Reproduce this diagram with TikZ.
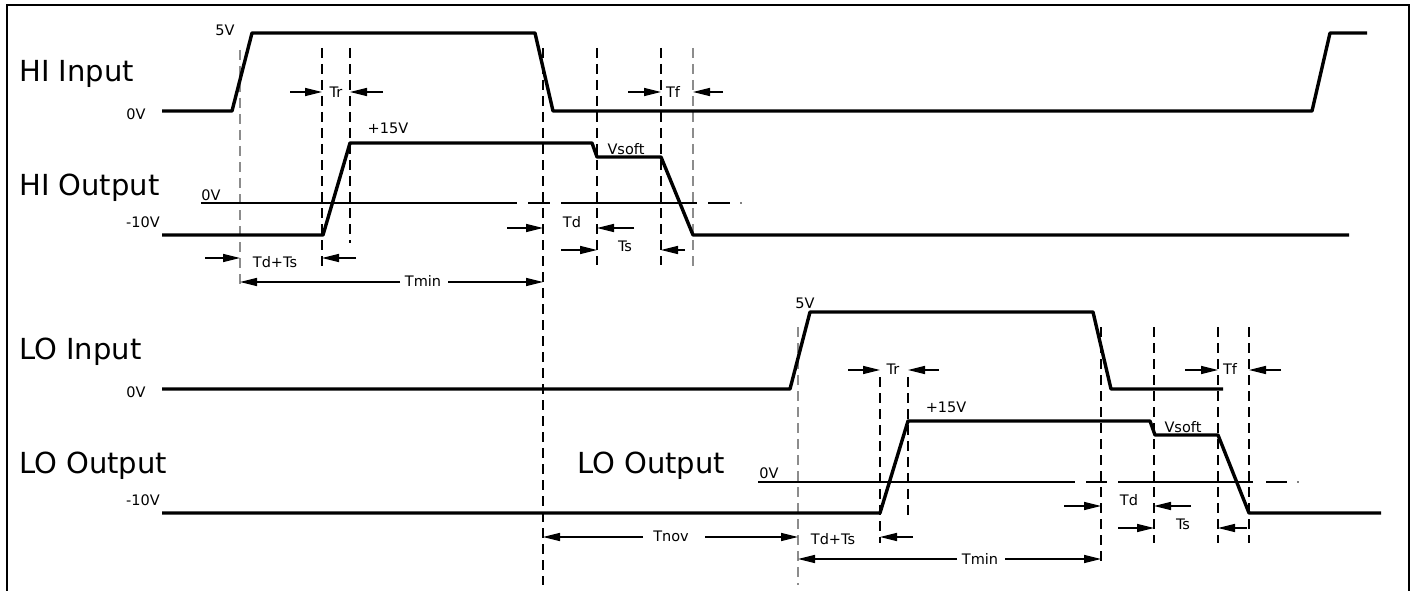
\documentclass[tikz,border=0pt]{standalone}
\usepackage{fontspec}
\setmainfont{DejaVu Sans}
\usetikzlibrary{arrows.meta}
\begin{document}
\begin{tikzpicture}[x=1pt,y=-1pt,
  sig/.style={line width=3.4pt,line join=round},
  vdash/.style={line width=1.5pt,dash pattern=on 10pt off 6pt},
  gdash/.style={vdash,draw=black!45},
  zline/.style={line width=1.4pt},
  arr/.style={line width=1.5pt,-{Triangle[length=17pt,width=8pt]}},
  big/.style={inner sep=0pt,anchor=base west,font=\fontsize{29}{34}\selectfont},
  lbl/.style={inner sep=0pt,font=\fontsize{14.5}{17}\selectfont}]
\useasboundingbox (0,0) rectangle (1416,591);
% frame
\draw[line width=2.5pt] (7,600) -- (7,5) -- (1409,5) -- (1409,600);

% ---------- HI section ----------
\node[big] (hiin) at (19,82) {HI Input};
\node[big] (hiout) at (19,195) {HI Output};
\node[lbl] (hi5) at (225,30) {5V};
\node[lbl] (hi0in) at (136,114) {0V};
\node[lbl] (hi0out) at (211,195) {0V};
\node[lbl] (him10) at (143,222) {-10V};
\node[lbl] (hip15) at (388,128) {+15V};
\node[lbl] (hivs) at (626,149) {Vsoft};
\node[lbl] (hitr) at (336,92) {Tr};
\node[lbl] (hitf) at (673,92) {Tf};
\node[lbl] (hitd) at (572,222) {Td};
\node[lbl] (hits) at (625,246) {Ts};
\node[lbl] (hitdts) at (275,262) {Td+Ts};
\node[lbl] (hitmin) at (423,281) {Tmin};

% vertical dashed lines
\draw[gdash] (240,50) -- (240,290);
\draw[vdash] (322,48) -- (322,267);
\draw[vdash] (350,48) -- (350,243);
\draw[vdash] (543,48) -- (543,585);
\draw[vdash] (597,48) -- (597,265);
\draw[vdash] (661,48) -- (661,265);
\draw[gdash] (693,48) -- (693,267);

% zero line
\draw[zline] (201,203) -- (517,203) (528,203) -- (550,203) (561,203) -- (697,203) (708,203) -- (730,203);
\fill (741,203) circle (0.8);

% waveforms
\draw[sig] (162,111) -- (232,111) -- (252,33) -- (535,33) -- (553,111) -- (1312,111) -- (1330,33) -- (1367,33);
\draw[sig] (162,235) -- (323,235) -- (350,143) -- (592,143) -- (597,157) -- (661,157) -- (693,235) -- (1349,235);

% arrows
\draw[arr] (290,92) -- (322,92);
\draw[arr] (383,92) -- (350,92);
\draw[arr] (628,92) -- (661,92);
\draw[arr] (723,92) -- (693,92);
\draw[arr] (507,228) -- (543,228);
\draw[arr] (634,228) -- (597,228);
\draw[arr] (561,250) -- (597,250);
\draw[arr] (685,250) -- (661,250);
\draw[arr] (205,258) -- (240,258);
\draw[arr] (356,258) -- (322,258);
\draw[arr] (400,282) -- (240,282);
\draw[arr] (448,282) -- (543,282);

% ---------- LO section ----------
\node[big] (loin) at (19,359) {LO Input};
\node[big] (loout) at (19,473) {LO Output};
\node[big] (loout2) at (577,473) {LO Output};
\node[lbl] (lo5) at (805,303) {5V};
\node[lbl] (lo0in) at (136,392) {0V};
\node[lbl] (lo0out) at (769,473) {0V};
\node[lbl] (lom10) at (143,500) {-10V};
\node[lbl] (lop15) at (946,407) {+15V};
\node[lbl] (lovs) at (1183,427) {Vsoft};
\node[lbl] (lotr) at (893,369) {Tr};
\node[lbl] (lotf) at (1230,369) {Tf};
\node[lbl] (lotd) at (1129,500) {Td};
\node[lbl] (lots) at (1183,524) {Ts};
\node[lbl] (lotnov) at (671,536) {Tnov};
\node[lbl] (lotdts) at (833,539) {Td+Ts};
\node[lbl] (lotmin) at (980,559) {Tmin};

\draw[gdash] (798,327) -- (798,585);
\draw[vdash] (880,377) -- (880,543);
\draw[vdash] (908,377) -- (908,520);
\draw[vdash] (1101,327) -- (1101,562);
\draw[vdash] (1154,327) -- (1154,543);
\draw[vdash] (1218,327) -- (1218,543);
\draw[vdash] (1249,327) -- (1249,543);

\draw[zline] (758,482) -- (1075,482) (1086,482) -- (1107,482) (1118,482) -- (1253,482) (1266,482) -- (1287,482);
\fill (1298,482) circle (0.8);

\draw[sig] (162,389) -- (790,389) -- (810,312) -- (1093,312) -- (1111,389) -- (1223,389);
\draw[sig] (162,513) -- (880,513) -- (908,421) -- (1150,421) -- (1155,435) -- (1218,435) -- (1249,513) -- (1381,513);

\draw[arr] (848,370) -- (880,370);
\draw[arr] (939,370) -- (908,370);
\draw[arr] (1185,370) -- (1218,370);
\draw[arr] (1281,370) -- (1249,370);
\draw[arr] (1064,506) -- (1101,506);
\draw[arr] (1191,506) -- (1154,506);
\draw[arr] (1118,528) -- (1154,528);
\draw[arr] (1247,528) -- (1218,528);
\draw[arr] (643,537) -- (543,537);
\draw[arr] (705,537) -- (798,537);
\draw[arr] (913,537) -- (880,537);
\draw[arr] (957,559) -- (798,559);
\draw[arr] (1005,559) -- (1101,559);
\end{tikzpicture}
\end{document}
